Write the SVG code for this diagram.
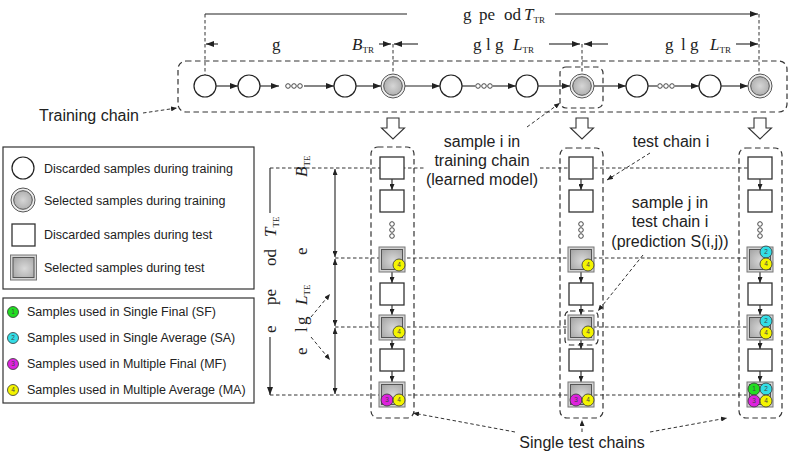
<svg xmlns="http://www.w3.org/2000/svg" width="793" height="454" viewBox="0 0 793 454">
<style>
.sans{font-family:"Liberation Sans",Arial,sans-serif;fill:#222}
.lg{font-size:12.5px}
.big{font-size:16px}
.serif{font-family:"Liberation Serif","Times New Roman",serif;font-size:17px;fill:#222}
.it{font-style:italic}
.sub{font-size:9px}
.solid{stroke:#222;stroke-width:1.1;fill:none}
.dash{stroke:#333;stroke-width:1;fill:none;stroke-dasharray:3.5 2.5}
.box{stroke:#333;stroke-width:1.2;fill:none;stroke-dasharray:5.5 3.5}
.circ{fill:#fff;stroke:#222;stroke-width:1.2}
.selo{fill:#eee;stroke:#555;stroke-width:1}
.sq{fill:#fff;stroke:#333;stroke-width:1.3}
.sqo{fill:#d4d4d4;stroke:#777;stroke-width:1}
.sqi{fill:url(#gsq);stroke:#555;stroke-width:1}
.dot{fill:#fff;stroke:#333;stroke-width:0.9}
.bd{stroke:#333;stroke-width:0.8}
.b1{fill:#22dd22}.b2{fill:#33dde6}.b3{fill:#dd22dd}.b4{fill:#f4f400}
.bn{font-family:"Liberation Sans",Arial,sans-serif;font-size:6.5px;fill:#444;text-anchor:middle}
.hollow{fill:#fff;stroke:#333;stroke-width:1.1}
</style>
<defs>
<radialGradient id="gc" cx="0.5" cy="0.5" r="0.6"><stop offset="0" stop-color="#d6d6d6"/><stop offset="1" stop-color="#a9a9a9"/></radialGradient>
<radialGradient id="gsq" cx="0.55" cy="0.55" r="0.7"><stop offset="0" stop-color="#d9d9d9"/><stop offset="1" stop-color="#a6a6a6"/></radialGradient>
<marker id="ah" viewBox="0 0 8 6" refX="8" refY="3" markerWidth="8" markerHeight="6" markerUnits="userSpaceOnUse" orient="auto-start-reverse"><path d="M0,0 L8,3 L0,6 z" fill="#222"/></marker>
<marker id="as" viewBox="0 0 6 5" refX="6" refY="2.5" markerWidth="6" markerHeight="5" markerUnits="userSpaceOnUse" orient="auto-start-reverse"><path d="M0,0 L6,2.5 L0,5 z" fill="#222"/></marker>
<g id="selc"><circle r="12" class="selo"/><circle r="9.3" fill="url(#gc)" stroke="#555" stroke-width="1"/></g>
<g id="dots3"><circle cx="-6" r="2.3" class="dot"/><circle r="2.3" class="dot"/><circle cx="6" r="2.3" class="dot"/></g>
<g id="vdots"><circle cy="-6" r="2.3" class="dot"/><circle r="2.3" class="dot"/><circle cy="6" r="2.3" class="dot"/></g>
<g id="sel"><rect x="-13" y="0" width="26" height="25" class="sqo"/><rect x="-10.5" y="2.5" width="21" height="20" class="sqi"/></g>
<path id="harrow" d="M-6,0 h12 v10 h5.5 l-11.5,11 l-11.5,-11 h5.5 z" class="hollow"/>
</defs>
<rect width="793" height="454" fill="#fff"/>

<!-- connectors / dimension lines -->
<g id="connectors">
  <path class="solid" d="M205,14 H407"/>
  <path class="solid" d="M555,14 H758" marker-end="url(#ah)"/>
  <path class="dash" d="M205,14 V75"/>
  <path class="dash" d="M759,14 V74"/>
  <path class="dash" d="M393,44 V74"/>
  <path class="dash" d="M582,44 V74"/>
  <path class="solid" d="M218,44 H206" marker-end="url(#ah)"/>
  <path class="solid" d="M379,44 H391" marker-end="url(#ah)"/>
  <path class="solid" d="M418,44 H394" marker-end="url(#ah)"/>
  <path class="solid" d="M549,44 H580" marker-end="url(#ah)"/>
  <path class="solid" d="M608,44 H584" marker-end="url(#ah)"/>
  <path class="solid" d="M736,44 H758" marker-end="url(#ah)"/>
  <path class="solid" d="M216,86 H238" marker-end="url(#ah)"/>
  <path class="solid" d="M260,86 H279" marker-end="url(#ah)"/>
  <path class="solid" d="M304,86 H334" marker-end="url(#ah)"/>
  <path class="solid" d="M356,86 H381" marker-end="url(#ah)"/>
  <path class="solid" d="M405,86 H440" marker-end="url(#ah)"/>
  <path class="solid" d="M462,86 H475"/>
  <path class="solid" d="M493,86 H516" marker-end="url(#ah)"/>
  <path class="solid" d="M538,86 H570" marker-end="url(#ah)"/>
  <path class="solid" d="M594,86 H626" marker-end="url(#ah)"/>
  <path class="solid" d="M648,86 H657"/>
  <path class="solid" d="M675,86 H699" marker-end="url(#ah)"/>
  <path class="solid" d="M721,86 H748" marker-end="url(#ah)"/>
  <path class="dash" d="M270,168 H749"/>
  <path class="dash" d="M335,258 H749"/>
  <path class="dash" d="M335,327 H749"/>
  <path class="dash" d="M270,395 H749"/>
  <path class="solid" d="M270,168 V213"/>
  <path class="solid" d="M270,337 V395" marker-end="url(#ah)"/>
  <path class="solid" d="M335,169 V257" marker-start="url(#as)" marker-end="url(#as)"/>
  <path class="solid" d="M335,259 V326" marker-start="url(#as)" marker-end="url(#as)"/>
  <path class="solid" d="M335,328 V394" marker-start="url(#as)" marker-end="url(#as)"/>
  <path class="dash" d="M311,317 L330,294" marker-end="url(#as)"/>
  <path class="dash" d="M311,337 L330,360" marker-end="url(#as)"/>
  <path class="dash" d="M143,113 L177,108" marker-end="url(#as)"/>
  <path class="dash" d="M527,127 L560,103" marker-end="url(#as)"/>
  <path class="dash" d="M650,153 L607,180" marker-end="url(#as)"/>
  <path class="dash" d="M643,255 L598,311" marker-end="url(#as)"/>
  <path class="dash" d="M515,432 L413,413" marker-end="url(#as)"/>
  <path class="dash" d="M582,432 V420" marker-end="url(#as)"/>
  <path class="dash" d="M650,432 L727,418" marker-end="url(#as)"/>
  <g id="tarrows1">
    <path class="solid" d="M392,179 V190" marker-end="url(#as)"/>
    <path class="solid" d="M392,272 V283" marker-end="url(#as)"/>
    <path class="solid" d="M392,305 V315" marker-end="url(#as)"/>
    <path class="solid" d="M392,339 V349" marker-end="url(#as)"/>
    <path class="solid" d="M392,371 V382" marker-end="url(#as)"/>
  </g>
  <use href="#tarrows1" x="189"/>
  <use href="#tarrows1" x="368"/>
</g>

<g id="training-chain">
  <rect x="178" y="61" width="609" height="51" rx="8" class="box"/>
  <circle cx="205" cy="86" r="11" class="circ"/>
  <circle cx="249" cy="86" r="11" class="circ"/>
  <use href="#dots3" x="294" y="86"/>
  <circle cx="345" cy="86" r="11" class="circ"/>
  <use href="#selc" x="393" y="86"/>
  <circle cx="451" cy="86" r="11" class="circ"/>
  <use href="#dots3" x="484" y="86"/>
  <circle cx="527" cy="86" r="11" class="circ"/>
  <use href="#selc" x="582" y="86"/>
  <circle cx="637" cy="86" r="11" class="circ"/>
  <use href="#dots3" x="666" y="86"/>
  <circle cx="710" cy="86" r="11" class="circ"/>
  <use href="#selc" x="760" y="86"/>
  <rect x="560" y="67" width="43" height="41" rx="6" class="box"/>
</g>

<g id="hollow-arrows">
  <use href="#harrow" x="393" y="118"/>
  <use href="#harrow" x="582" y="118"/>
  <use href="#harrow" x="760" y="118"/>
</g>

<g id="label-ttr"><text class="serif" y="20"><tspan x="463">g</tspan><tspan x="479">pe</tspan><tspan x="504">od</tspan><tspan x="524" class="it">T</tspan><tspan class="sub" dy="3">TR</tspan></text></g>
<g id="label-btr"><text class="serif" y="50"><tspan x="272">g</tspan><tspan x="352" class="it">B</tspan><tspan class="sub" dy="3">TR</tspan></text></g>
<g id="label-ltr1"><text class="serif" y="50"><tspan x="473">g</tspan><tspan x="486">l</tspan><tspan x="495">g</tspan><tspan x="513" class="it">L</tspan><tspan class="sub" dy="3">TR</tspan></text></g>
<g id="label-ltr2"><text class="serif" y="50"><tspan x="665">g</tspan><tspan x="681">l</tspan><tspan x="690">g</tspan><tspan x="710" class="it">L</tspan><tspan class="sub" dy="3">TR</tspan></text></g>

<g id="label-training"><text class="sans big" x="39" y="121">Training chain</text></g>

<g id="legend1">
  <rect x="3" y="147" width="251" height="142" fill="#fff" stroke="#333" stroke-width="1.2"/>
  <circle cx="23" cy="168" r="11" class="circ"/>
  <use href="#selc" x="23" y="200"/>
  <rect x="12" y="224" width="23" height="22" class="sq"/>
  <use href="#sel" x="23.5" y="255"/>
  <text class="sans lg" x="44" y="173">Discarded samples during training</text>
  <text class="sans lg" x="44" y="205">Selected samples during training</text>
  <text class="sans lg" x="44" y="239">Discarded samples during test</text>
  <text class="sans lg" x="44" y="272">Selected samples during test</text>
</g>

<g id="legend2">
  <rect x="3" y="298" width="251" height="105" fill="#fff" stroke="#333" stroke-width="1.2"/>
  <circle cx="13" cy="312" r="5.5" class="b1 bd"/><text class="bn" x="13" y="314.3">1</text>
  <circle cx="13" cy="338" r="5.5" class="b2 bd"/><text class="bn" x="13" y="340.3">2</text>
  <circle cx="13" cy="364" r="5.5" class="b3 bd"/><text class="bn" x="13" y="366.3">3</text>
  <circle cx="13" cy="390" r="5.5" class="b4 bd"/><text class="bn" x="13" y="392.3">4</text>
  <text class="sans lg" x="27" y="316">Samples used in Single Final (SF)</text>
  <text class="sans lg" x="27" y="342">Samples used in Single Average (SA)</text>
  <text class="sans lg" x="27" y="368">Samples used in Multiple Final (MF)</text>
  <text class="sans lg" x="27" y="394">Samples used in Multiple Average (MA)</text>
</g>

<g id="label-tte"><text class="serif" transform="translate(276,333) rotate(-90)"><tspan x="0">e</tspan><tspan x="28">pe</tspan><tspan x="67">od</tspan><tspan x="96" class="it">T</tspan><tspan class="sub" dy="3">TE</tspan></text></g>
<g id="label-bte"><text class="serif" transform="translate(307,255) rotate(-90)"><tspan x="0">e</tspan><tspan x="78" class="it">B</tspan><tspan class="sub" dy="3">TE</tspan></text></g>
<g id="label-lte"><text class="serif" transform="translate(307,355) rotate(-90)"><tspan x="0">e</tspan><tspan x="23">l</tspan><tspan x="30">g</tspan><tspan x="50" class="it">L</tspan><tspan class="sub" dy="3">TE</tspan></text></g>

<g id="test-chain-1">
  <rect x="371" y="147" width="43" height="271" rx="7" class="box"/>
  <rect x="380" y="157" width="24" height="22" class="sq"/>
  <rect x="380" y="190" width="24" height="22" class="sq"/>
  <use href="#vdots" x="392" y="230"/>
  <use href="#sel" x="392" y="247"/>
  <rect x="380" y="283" width="24" height="22" class="sq"/>
  <use href="#sel" x="392" y="315"/>
  <rect x="380" y="349" width="24" height="22" class="sq"/>
  <use href="#sel" x="392" y="382"/>
  <circle cx="399" cy="265" r="6" class="b4 bd"/><text class="bn" x="399" y="267.3">4</text>
  <circle cx="399" cy="332" r="6" class="b4 bd"/><text class="bn" x="399" y="334.3">4</text>
  <circle cx="387" cy="400" r="6" class="b3 bd"/><text class="bn" x="387" y="402.3">3</text>
  <circle cx="399" cy="400" r="6" class="b4 bd"/><text class="bn" x="399" y="402.3">4</text>
</g>
<g id="test-chain-2">
  <rect x="560" y="148" width="43" height="270" rx="7" class="box"/>
  <rect x="569" y="157" width="24" height="22" class="sq"/>
  <rect x="569" y="190" width="24" height="22" class="sq"/>
  <use href="#vdots" x="581" y="230"/>
  <use href="#sel" x="581" y="247"/>
  <rect x="569" y="283" width="24" height="22" class="sq"/>
  <use href="#sel" x="581" y="315"/>
  <rect x="569" y="349" width="24" height="22" class="sq"/>
  <use href="#sel" x="581" y="382"/>
  <rect x="565" y="311" width="33" height="34" rx="5" class="box"/>
  <circle cx="588" cy="265" r="6" class="b4 bd"/><text class="bn" x="588" y="267.3">4</text>
  <circle cx="588" cy="332" r="6" class="b4 bd"/><text class="bn" x="588" y="334.3">4</text>
  <circle cx="576" cy="400" r="6" class="b3 bd"/><text class="bn" x="576" y="402.3">3</text>
  <circle cx="588" cy="400" r="6" class="b4 bd"/><text class="bn" x="588" y="402.3">4</text>
</g>
<g id="test-chain-3">
  <rect x="739" y="148" width="43" height="270" rx="7" class="box"/>
  <rect x="748" y="157" width="24" height="22" class="sq"/>
  <rect x="748" y="190" width="24" height="22" class="sq"/>
  <use href="#vdots" x="760" y="230"/>
  <use href="#sel" x="760" y="247"/>
  <rect x="748" y="283" width="24" height="22" class="sq"/>
  <use href="#sel" x="760" y="315"/>
  <rect x="748" y="349" width="24" height="22" class="sq"/>
  <use href="#sel" x="760" y="382"/>
  <circle cx="766" cy="252" r="6" class="b2 bd"/><text class="bn" x="766" y="254.3">2</text>
  <circle cx="766" cy="264" r="6" class="b4 bd"/><text class="bn" x="766" y="266.3">4</text>
  <circle cx="766" cy="321" r="6" class="b2 bd"/><text class="bn" x="766" y="323.3">2</text>
  <circle cx="766" cy="333" r="6" class="b4 bd"/><text class="bn" x="766" y="335.3">4</text>
  <circle cx="754" cy="389" r="6" class="b1 bd"/><text class="bn" x="754" y="391.3">1</text>
  <circle cx="766" cy="389" r="6" class="b2 bd"/><text class="bn" x="766" y="391.3">2</text>
  <circle cx="754" cy="401" r="6" class="b3 bd"/><text class="bn" x="754" y="403.3">3</text>
  <circle cx="766" cy="401" r="6" class="b4 bd"/><text class="bn" x="766" y="403.3">4</text>
</g>

<g id="label-sample-i">
  <rect x="424" y="129" width="116" height="60" fill="#fff"/>
  <text class="sans big" text-anchor="middle"><tspan x="482" y="147">sample i in</tspan><tspan x="482" y="166">training chain</tspan><tspan x="482" y="185">(learned model)</tspan></text>
</g>
<g id="label-test-chain-i"><text class="sans big" text-anchor="middle" x="671" y="147">test chain i</text></g>
<g id="label-sample-j"><text class="sans big" text-anchor="middle"><tspan x="670" y="208">sample j in</tspan><tspan x="670" y="227">test chain i</tspan><tspan x="670" y="247">(prediction S(i,j))</tspan></text></g>
<g id="label-single"><text class="sans big" text-anchor="middle" x="582" y="448">Single test chains</text></g>
</svg>
